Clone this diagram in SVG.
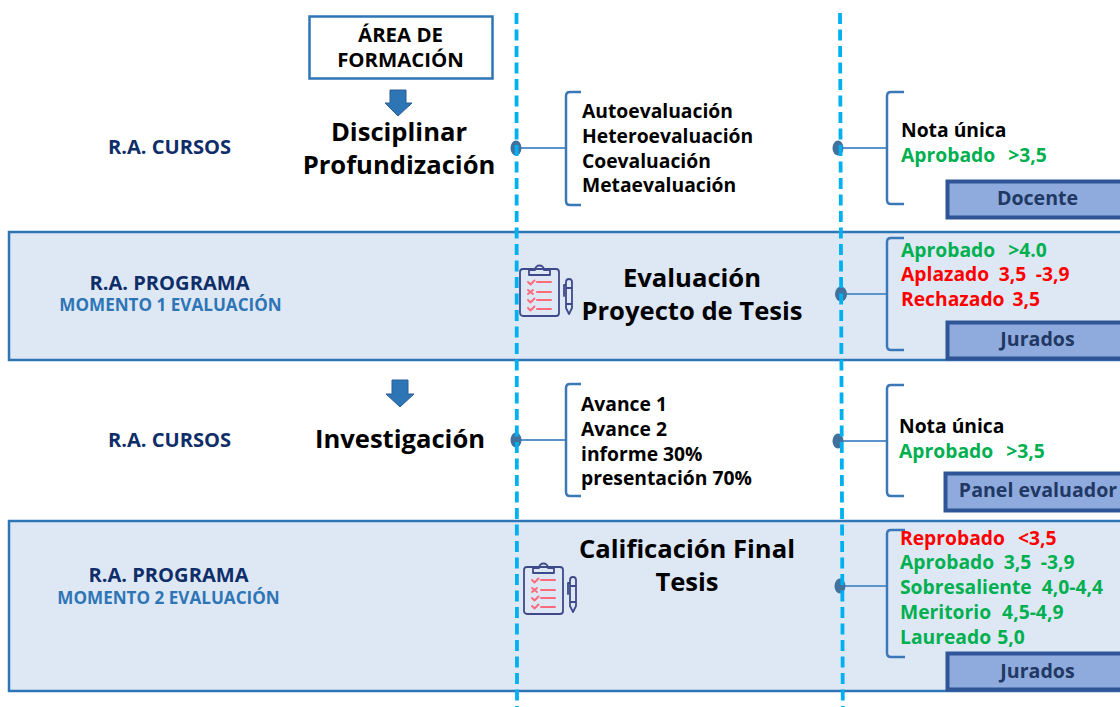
<svg xmlns="http://www.w3.org/2000/svg" width="1120" height="707" viewBox="0 0 1120 707">
<style>
text{font-family:"Open Sans","Noto Sans","Liberation Sans",sans-serif;font-weight:700}
.band{fill:#dee8f5;stroke:#2e75b6;stroke-width:2.5}
.dash{fill:none;stroke:#00b0f0;stroke-width:3.8;stroke-dasharray:11 5.5}
.brace{fill:none;stroke:#3b78b8;stroke-width:2.5}
.link{fill:none;stroke:#5b93cc;stroke-width:2.2}
.dot{fill:#41719c}
.arrow{fill:#2e75b6;stroke:#2b5f94;stroke-width:1}
.ra{font-size:20.1px;fill:#0f2d69;text-anchor:middle}
.mo{font-size:17.1px;fill:#2e75b6;text-anchor:middle}
.ttl{font-size:25.6px;fill:#000;text-anchor:middle}
.li{font-size:19.3px;fill:#000}
.g{font-size:19.3px;fill:#00b050}
.r{font-size:19.3px;fill:#f00}
.who{fill:#8faadc;stroke:#2f5597;stroke-width:4}
.whot{font-size:19.6px;fill:#1f3864;text-anchor:middle}
.area{font-size:20.4px;fill:#000;text-anchor:middle}
.ic{fill:none;stroke:#3f4a8a;stroke-width:1.8;stroke-linejoin:round;stroke-linecap:round}
.ck{fill:none;stroke:#ff6b7d;stroke-width:2;stroke-linecap:round;stroke-linejoin:round}
</style>
<defs>
<g id="clip">
<rect class="ic" x="0" y="5" width="39" height="47" rx="3"/>
<path class="ic" d="M9 11V6H15C15 0 24 0 24 6H30V11Z"/>
<path class="ck" d="M8 18l2.500 2.500 4-4M17 18H31M8 26l5 4M13 26l-5 4M17 28H31M8 36l2.500 2.500 4-4M17 36H31M8 44l2.500 2.500 4-4M17 45H31"/>
<path class="ic" d="M46 18a3 3 0 0 1 6 0V44L49 50L46 44ZM46 24H52M46 40H52M46 21H44V32"/>
</g>
</defs>

<g id="band-1"><rect class="band" x="9" y="232" width="1120" height="128"/></g>
<g id="band-2"><rect class="band" x="9" y="521" width="1120" height="170"/></g>

<g id="connectors">
<path class="link" d="M516 148H565"/>
<path class="link" d="M838 148H886"/>
<path class="link" d="M840 294H886"/>
<path class="link" d="M516 440H565"/>
<path class="link" d="M838 441H886"/>
<path class="link" d="M840 586H886"/>
<path class="brace" d="M581 92H570Q566 92 566 96V201Q566 205 570 205H581"/>
<path class="brace" d="M904 92H891Q887 92 887 96V200Q887 204 891 204H904"/>
<path class="brace" d="M904 238H891Q887 238 887 242V346Q887 350 891 350H904"/>
<path class="brace" d="M581 384H570Q566 384 566 388V492Q566 496 570 496H581"/>
<path class="brace" d="M904 385H891Q887 385 887 389V492Q887 496 891 496H904"/>
<path class="brace" d="M905 530H891Q887 530 887 534V653Q887 657 891 657H905"/>
<ellipse class="dot" cx="516" cy="148" rx="5.500" ry="7.500"/>
<ellipse class="dot" cx="838" cy="148" rx="5.500" ry="7.500"/>
<ellipse class="dot" cx="841" cy="294" rx="6" ry="7.500"/>
<ellipse class="dot" cx="516" cy="440" rx="5.500" ry="7.500"/>
<ellipse class="dot" cx="838" cy="441" rx="5.500" ry="7.500"/>
<ellipse class="dot" cx="840" cy="586" rx="5.500" ry="7.500"/>
<path class="dash" d="M516.500 13L517 707"/>
<path class="dash" d="M840 13L842.800 707"/>
<path class="arrow" d="M390 90H406V103H412L398 116L385 103H390Z"/>
<path class="arrow" d="M392 380H408V394H414L400 407L386 394H392Z"/>
</g>

<g id="area"><rect x="309.500" y="16.500" width="183" height="62" fill="#fff" stroke="#2e75b6" stroke-width="2.500"/>
<text class="area" x="400.500" y="42">ÁREA DE</text>
<text class="area" x="400.500" y="66.500">FORMACIÓN</text></g>

<g id="row-1">
<text class="ra" x="169.500" y="154">R.A. CURSOS</text>
<text class="ttl" x="399" y="141">Disciplinar</text>
<text class="ttl" x="399" y="174">Profundización</text>
<text class="li" x="582" y="118">Autoevaluación</text>
<text class="li" x="582" y="143">Heteroevaluación</text>
<text class="li" x="582" y="168">Coevaluación</text>
<text class="li" x="582" y="192">Metaevaluación</text>
<text class="li" x="901" y="137">Nota única</text>
<text class="g" x="901" y="162" word-spacing="8">Aprobado &gt;3,5</text>
<rect class="who" x="947.500" y="181.500" width="180" height="36"/>
<text class="whot" x="1037.500" y="205">Docente</text>
</g>

<g id="row-2">
<text class="ra" x="169.500" y="290">R.A. PROGRAMA</text>
<text class="mo" x="170.500" y="311">MOMENTO 1 EVALUACIÓN</text>
<use href="#clip" x="520" y="264"/>
<text class="ttl" x="692" y="287">Evaluación</text>
<text class="ttl" x="692" y="320">Proyecto de Tesis</text>
<text class="g" x="901" y="257" word-spacing="8">Aprobado &gt;4.0</text>
<text class="r" x="901" y="281" word-spacing="4.500">Aplazado 3,5 -3,9</text>
<text class="r" x="901" y="306" word-spacing="3">Rechazado 3,5</text>
<rect class="who" x="947.500" y="322.500" width="180" height="36"/>
<text class="whot" x="1037.500" y="346">Jurados</text>
</g>

<g id="row-3">
<text class="ra" x="169.500" y="447">R.A. CURSOS</text>
<text class="ttl" x="400" y="448">Investigación</text>
<text class="li" x="581" y="411">Avance 1</text>
<text class="li" x="581" y="436">Avance 2</text>
<text class="li" x="581" y="461">informe 30%</text>
<text class="li" x="581" y="485">presentación 70%</text>
<text class="li" x="899" y="433">Nota única</text>
<text class="g" x="899" y="458" word-spacing="8">Aprobado &gt;3,5</text>
<rect class="who" x="945.500" y="473.500" width="182" height="37"/>
<text class="whot" x="1038" y="497">Panel evaluador</text>
</g>

<g id="row-4">
<text class="ra" x="168.500" y="582">R.A. PROGRAMA</text>
<text class="mo" x="168.500" y="604">MOMENTO 2 EVALUACIÓN</text>
<use href="#clip" x="524" y="562"/>
<text class="ttl" x="687" y="558">Calificación Final</text>
<text class="ttl" x="687" y="591">Tesis</text>
<text class="r" x="900" y="545" word-spacing="8">Reprobado &lt;3,5</text>
<text class="g" x="900" y="569" word-spacing="4.500">Aprobado 3,5 -3,9</text>
<text class="g" x="900" y="594" word-spacing="5">Sobresaliente 4,0-4,4</text>
<text class="g" x="900" y="619" word-spacing="6">Meritorio 4,5-4,9</text>
<text class="g" x="900" y="644" word-spacing="1">Laureado 5,0</text>
<rect class="who" x="947.500" y="653.500" width="180" height="36"/>
<text class="whot" x="1037.500" y="678">Jurados</text>
</g>
</svg>
